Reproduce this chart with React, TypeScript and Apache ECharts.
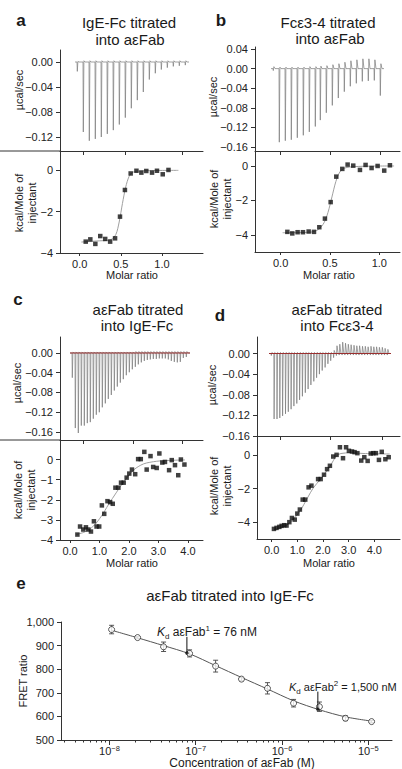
import React, { useEffect, useRef } from "react";
import * as echarts from "echarts";

const FONT = "'Liberation Sans', Arial, Helvetica, sans-serif";
const AX = "#333";
const TXT = "#1a1a1a";

// ---------- Panel a (IgE-Fc titrated into aεFab) ----------
const aTime = [17, 23, 29, 35, 41, 47, 53, 59, 65, 71, 77, 83, 89, 95, 101, 107, 113, 119, 125];
const aDown = [-0.015, -0.112, -0.126, -0.123, -0.12, -0.115, -0.109, -0.1, -0.089, -0.074, -0.061, -0.048, -0.028, -0.018, -0.012, -0.009, -0.007, -0.006, -0.005];
const aUp = [0.001, 0.002, 0.002, 0.002, 0.002, 0.002, 0.002, 0.002, 0.002, 0.002, 0.002, 0.002, 0.002, 0.002, 0.002, 0.002, 0.002, 0.002, 0.002];
const aRatio = [0.073, 0.129, 0.19, 0.25, 0.31, 0.37, 0.43, 0.49, 0.55, 0.62, 0.69, 0.75, 0.81, 0.88, 0.94, 1.01, 1.08];
const aHeat = [-3.45, -3.34, -3.56, -3.18, -3.32, -3.45, -3.29, -2.24, -0.95, -0.15, -0.02, -0.11, -0.03, -0.11, -0.02, -0.19, 0.02];
const aFitX = [0.02, 0.2, 0.38, 0.44, 0.48, 0.52, 0.56, 0.6, 0.64, 0.7, 0.85, 1.2];
const aFitY = [-3.47, -3.42, -3.35, -3.1, -2.5, -1.6, -0.8, -0.3, -0.1, -0.04, -0.01, 0];

// ---------- Panel b (Fcε3-4 titrated into aεFab) ----------
const bTime = [18, 24, 30, 36, 42, 48, 54, 60, 65, 71, 77, 83, 89, 95, 101, 107, 113, 119, 125];
const bDown = [-0.004, -0.15, -0.147, -0.145, -0.141, -0.136, -0.129, -0.118, -0.105, -0.09, -0.075, -0.06, -0.047, -0.036, -0.03, -0.026, -0.025, -0.024, -0.055];
const bUp = [0.004, 0.003, 0.003, 0.003, 0.003, 0.003, 0.004, 0.004, 0.005, 0.006, 0.008, 0.01, 0.013, 0.016, 0.018, 0.02, 0.02, 0.018, 0.01];
const bRatio = [0.068, 0.118, 0.172, 0.226, 0.284, 0.338, 0.392, 0.449, 0.507, 0.564, 0.625, 0.679, 0.736, 0.804, 0.861, 0.922, 0.983, 1.05, 1.108];
const bHeat = [-3.83, -3.92, -3.85, -3.85, -3.81, -3.83, -3.56, -3.06, -2.1, -0.62, -0.17, 0.08, 0.02, -0.23, 0.06, -0.12, 0, -0.27, 0.04];
const bFitX = [0.02, 0.3, 0.38, 0.44, 0.48, 0.52, 0.56, 0.6, 0.65, 0.75, 0.9, 1.15];
const bFitY = [-3.88, -3.85, -3.7, -3.3, -2.7, -1.8, -0.9, -0.35, -0.12, -0.04, -0.01, 0];

// ---------- Panel c (aεFab titrated into IgE-Fc) ----------
const cTime = [12, 15, 18, 21, 24, 27, 30, 33, 36, 39, 42, 45, 48, 51, 54, 57, 60, 63, 66, 69, 72, 75, 78, 81, 84, 87, 90, 93, 96, 99, 102, 105, 108, 111, 114, 117, 120, 123, 126];
const cDown = [-0.05, -0.152, -0.162, -0.147, -0.147, -0.142, -0.14, -0.133, -0.125, -0.12, -0.11, -0.102, -0.093, -0.085, -0.076, -0.068, -0.06, -0.053, -0.045, -0.039, -0.033, -0.028, -0.023, -0.019, -0.016, -0.014, -0.013, -0.012, -0.012, -0.011, -0.011, -0.011, -0.013, -0.016, -0.018, -0.019, -0.018, -0.01, -0.008];
const cUp = [0.002, 0.002, 0.002, 0.002, 0.002, 0.002, 0.002, 0.002, 0.002, 0.002, 0.002, 0.002, 0.002, 0.002, 0.002, 0.002, 0.002, 0.002, 0.002, 0.002, 0.002, 0.003, 0.003, 0.003, 0.003, 0.003, 0.003, 0.003, 0.003, 0.003, 0.003, 0.003, 0.003, 0.003, 0.003, 0.003, 0.003, 0.003, 0.003];
const cRatio = [0.25, 0.34, 0.45, 0.54, 0.62, 0.71, 0.81, 0.9, 0.99, 1.08, 1.16, 1.27, 1.36, 1.45, 1.54, 1.64, 1.73, 1.82, 1.92, 2.01, 2.1, 2.21, 2.31, 2.4, 2.52, 2.6, 2.73, 2.82, 2.94, 3.03, 3.13, 3.22, 3.36, 3.45, 3.56, 3.67, 3.76, 3.88];
const cHeat = [-3.73, -3.33, -3.48, -3.37, -3.48, -3.58, -3.07, -3.33, -3.33, -2.28, -2.7, -2.07, -2.12, -2.2, -1.4, -1.4, -1.15, -1.15, -0.9, -0.7, -0.5, -0.73, 0.02, 0.02, 0.38, -0.5, 0.17, -0.37, -0.42, 0.3, -0.15, -0.12, -0.53, -0.03, -0.28, -0.78, 0, -0.25];
const cFitX = [0.22, 0.5, 0.8, 1.07, 1.3, 1.58, 1.85, 2.15, 2.4, 2.6, 3.05, 3.9];
const cFitY = [-3.72, -3.6, -3.3, -2.8, -2.25, -1.62, -1.05, -0.53, -0.28, -0.17, -0.07, -0.02];

// ---------- Panel d (aεFab titrated into Fcε3-4) ----------
const dTime = [14, 16.8, 19.7, 22.5, 25.3, 28.2, 31, 33.8, 36.6, 39.5, 42.3, 45.1, 48, 50.8, 53.6, 56.5, 59.3, 62.1, 64.9, 67.8, 70.6, 73.4, 76.3, 79.1, 81.9, 84.8, 87.6, 90.4, 93.2, 96.1, 98.9, 101.7, 104.6, 107.4, 110.2, 113.1, 115.9, 118.7, 121.5, 124.4, 127.2, 130];
const dDown = [-0.004, -0.127, -0.127, -0.125, -0.121, -0.117, -0.113, -0.108, -0.102, -0.097, -0.09, -0.083, -0.076, -0.069, -0.061, -0.054, -0.047, -0.04, -0.033, -0.027, -0.02, -0.014, -0.008, -0.004, -0.003, -0.003, -0.003, -0.003, -0.003, -0.003, -0.003, -0.003, -0.003, -0.003, -0.003, -0.003, -0.003, -0.003, -0.003, -0.003, -0.003, -0.003];
const dUp = [0.002, 0.002, 0.002, 0.002, 0.002, 0.002, 0.002, 0.002, 0.002, 0.002, 0.002, 0.002, 0.002, 0.002, 0.002, 0.002, 0.002, 0.002, 0.002, 0.002, 0.002, 0.002, 0.006, 0.015, 0.018, 0.022, 0.02, 0.018, 0.017, 0.016, 0.015, 0.015, 0.014, 0.014, 0.013, 0.014, 0.013, 0.013, 0.012, 0.012, 0.01, 0.008];
const dRatio = [0.09, 0.19, 0.3, 0.39, 0.49, 0.58, 0.69, 0.79, 0.9, 1.0, 1.1, 1.21, 1.31, 1.44, 1.55, 1.81, 1.91, 2.04, 2.16, 2.27, 2.4, 2.53, 2.66, 2.78, 2.9, 3.01, 3.13, 3.23, 3.34, 3.49, 3.61, 3.74, 3.86, 3.96, 4.06, 4.18, 4.29, 4.43, 4.56];
const dHeat = [-4.4, -4.34, -4.28, -4.22, -4.18, -4.2, -4.0, -3.75, -3.85, -3.49, -3.25, -2.66, -2.66, -1.93, -1.83, -1.44, -1.44, -1.18, -0.85, -0.65, -0.1, 0, 0.45, -0.2, 0.45, 0.24, 0.2, 0.16, 0.1, -0.34, -0.14, -0.36, 0.08, 0.1, 0.1, -0.3, 0.18, -0.26, -0.14];
const dFitX = [0.09, 0.5, 0.8, 1.1, 1.4, 1.62, 1.9, 2.1, 2.27, 2.4, 2.53, 2.7, 3.05, 3.6, 4.6];
const dFitY = [-4.45, -4.25, -3.9, -3.35, -2.55, -1.97, -1.45, -1.05, -0.69, -0.35, -0.05, 0.08, 0.12, 0.08, 0.05];

// ---------- Panel e (FRET) ----------
const eConc = [1.06e-8, 2.12e-8, 4.24e-8, 8.48e-8, 1.7e-7, 3.39e-7, 6.78e-7, 1.36e-6, 2.71e-6, 5.43e-6, 1.09e-5];
const eFret = [968, 934, 895, 867, 813, 758, 719, 656, 641, 592, 578];
const eErr = [18, 5, 20, 15, 25, 7, 24, 16, 20, 10, 5];
const eFitConc = [1.06e-8, 2.12e-8, 4.24e-8, 8.48e-8, 1.7e-7, 3.39e-7, 6.78e-7, 1.36e-6, 2.71e-6, 5.43e-6, 1.09e-5];
const eFitVal = [965, 933, 900, 865, 815, 765, 716, 666, 628, 598, 580];
const eDecades = [-8, -7, -6, -5];
const kd1 = { conc: 7.9e-8, top: 937, bottom: 869 };
const kd2 = { conc: 2.6e-6, top: 705, bottom: 630 };

const GRIDS = [
  { left: 60, top: 50, width: 143, height: 101 },
  { left: 60, top: 151, width: 143, height: 102 },
  { left: 255, top: 47, width: 145, height: 104 },
  { left: 255, top: 151, width: 145, height: 101 },
  { left: 60, top: 337, width: 143, height: 103 },
  { left: 60, top: 440, width: 143, height: 100 },
  { left: 257, top: 337, width: 143, height: 99 },
  { left: 257, top: 436, width: 143, height: 103 },
  { left: 61, top: 622, width: 331, height: 118 },
];

function thermo(times: number[], down: number[], up: number[]) {
  const pts: number[][] = [[times[0] - 2, 0]];
  times.forEach((t, i) => {
    pts.push([t, 0], [t + 0.3, down[i]], [t + 0.9, up[i]], [t + 2, 0]);
  });
  pts.push([times[times.length - 1] + 4, 0]);
  return pts;
}
const zip = (xs: number[], ys: number[]) => xs.map((x, i) => [x, ys[i]]);

const fmtTherm = (v: number) => (v === 0 ? "0.00" : (v < 0 ? "\u2212" : "") + Math.abs(v).toFixed(2));
const fmtInt = (v: number) => (v === 0 ? "0" : (v < 0 ? "\u2212" : "") + Math.abs(v));
const fmt1 = (v: number) => v.toFixed(1);

function valAxis(gridIndex: number, min: number, max: number, ticks: number[], fmt: any, showLabel = true, tickLen = 4, margin = 7) {
  return {
    type: "value",
    gridIndex,
    min,
    max,
    axisLine: { show: true, onZero: false, lineStyle: { color: AX, width: 1 } },
    axisTick: { show: true, inside: false, length: tickLen, customValues: ticks, lineStyle: { color: AX, width: 1 } },
    axisLabel: { show: showLabel, customValues: ticks, formatter: fmt, fontSize: 11, color: "#222", fontFamily: FONT, margin },
    splitLine: { show: false },
    minorTick: { show: false },
  };
}

function txt(text: string, x: number, y: number, o: any = {}) {
  return {
    type: "text",
    x,
    y,
    rotation: o.rot || 0,
    z: 100,
    style: {
      text,
      fill: TXT,
      fontSize: o.size || 11,
      fontFamily: FONT,
      fontWeight: o.bold ? "bold" : "normal",
      align: o.align || "center",
      textAlign: o.align || "center",
      verticalAlign: "middle",
      textVerticalAlign: "middle",
      lineHeight: o.lh,
      rich: o.rich,
    },
  };
}

function buildOption() {
  const log = (c: number) => Math.log10(c);
  const minor: number[] = [];
  for (let d = -9; d <= -5; d++) for (let m = 2; m <= 9; m++) minor.push(Math.log10(m) + d);

  const thermoLine = (x: number, data: number[][]) => ({
    type: "line", xAxisIndex: x, yAxisIndex: x, data, showSymbol: false, clip: true,
    lineStyle: { color: "#7a7a7a", width: 0.7 }, z: 2,
  });
  const fitLine = (x: number, data: number[][]) => ({
    type: "line", xAxisIndex: x, yAxisIndex: x, data, showSymbol: false, smooth: 0.3,
    lineStyle: { color: "#a0a0a0", width: 1 }, z: 2,
  });
  const sq = (x: number, data: number[][]) => ({
    type: "scatter", xAxisIndex: x, yAxisIndex: x, data, symbol: "rect", symbolSize: 4.5,
    itemStyle: { color: "#111" }, z: 3,
  });
  const base = (x: number, times: number[]) => ({
    type: "line", xAxisIndex: x, yAxisIndex: x, data: [[times[0] - 2, 0], [times[times.length - 1] + 4, 0]],
    showSymbol: false, lineStyle: { color: "#9b2f2f", width: 1 }, z: 4,
  });

  const mkRich = (sz: number) => ({
    k: { fontStyle: "italic", fontSize: sz, fontFamily: FONT, fill: TXT, color: TXT, lineHeight: 16 },
    s: { fontSize: 8, fontFamily: FONT, fill: TXT, color: TXT, verticalAlign: "bottom", lineHeight: 8 },
    n: { fontSize: sz, fontFamily: FONT, fill: TXT, color: TXT, lineHeight: 16 },
    p: { fontSize: 8, fontFamily: FONT, fill: TXT, color: TXT, verticalAlign: "top", lineHeight: 8 },
  });

  return {
    animation: false,
    backgroundColor: "#ffffff",
    grid: GRIDS.map((g) => ({ ...g, containLabel: false, outerBoundsMode: "none" })),
    xAxis: [
      valAxis(0, 0, 143, [23, 65, 122], fmt1, false, 4),
      valAxis(1, -0.24, 1.5, [0, 0.5, 1.0], fmt1, true, 3, 5),
      valAxis(2, 0, 145, [25, 75, 125], fmt1, false, 4),
      valAxis(3, -0.26, 1.21, [0, 0.5, 1.0], fmt1, true, 3, 5),
      valAxis(4, 0, 143, [23, 73, 122], fmt1, false, 4),
      valAxis(5, -0.34, 4.51, [0, 1, 2, 3, 4], fmt1, true, 3, 5),
      valAxis(6, 0, 143, [23, 73, 125], fmt1, false, 4),
      valAxis(7, -0.57, 5.0, [0, 1, 2, 3, 4], fmt1, true, 3, 5),
      {
        ...valAxis(8, -8.561, -4.726, eDecades, fmt1, true, 5, 4),
        position: "bottom",
        axisLabel: {
          show: true, customValues: eDecades, margin: 4,
          formatter: (v: number) => `{b|10}{s|\u2212${Math.abs(Math.round(v))}}`,
          rich: {
            b: { fontSize: 11, fontFamily: FONT, color: "#222", lineHeight: 13 },
            s: { fontSize: 7.5, fontFamily: FONT, color: "#222", verticalAlign: "top", lineHeight: 8 },
          },
        },
      },
      {
        type: "value", gridIndex: 8, min: -8.561, max: -4.726, position: "bottom",
        axisLine: { show: false, onZero: false },
        axisTick: { show: true, inside: false, length: 2.5, customValues: minor, lineStyle: { color: AX, width: 1 } },
        axisLabel: { show: false },
        splitLine: { show: false },
      },
    ],
    yAxis: [
      valAxis(0, -0.1424, 0.0192, [0, -0.04, -0.08, -0.12], fmtTherm),
      valAxis(1, -4, 0.937, [0, -2, -4], fmtInt),
      valAxis(2, -0.168, 0.0441, [0.04, 0, -0.04, -0.08, -0.12, -0.16], fmtTherm),
      valAxis(3, -5, 0.87, [0, -2, -4], fmtInt),
      valAxis(4, -0.1762, 0.0324, [0, -0.04, -0.08, -0.12, -0.16], fmtTherm),
      valAxis(5, -4, 0.97, [0, -1, -2, -3, -4], fmtInt),
      valAxis(6, -0.16, 0.032, [0, -0.04, -0.08, -0.12, -0.16], fmtTherm),
      valAxis(7, -5, 1.12, [0, -2, -4], fmtInt),
      {
        ...valAxis(8, 500, 1000, [500, 600, 700, 800, 900, 1000], (v: number) => (v >= 1000 ? "1,000" : String(v))),
        interval: 100,
      },
    ],
    series: [
      thermoLine(0, thermo(aTime, aDown, aUp)),
      fitLine(1, zip(aFitX, aFitY)),
      sq(1, zip(aRatio, aHeat)),
      thermoLine(2, thermo(bTime, bDown, bUp)),
      fitLine(3, zip(bFitX, bFitY)),
      sq(3, zip(bRatio, bHeat)),
      thermoLine(4, thermo(cTime, cDown, cUp)),
      base(4, cTime),
      fitLine(5, zip(cFitX, cFitY)),
      sq(5, zip(cRatio, cHeat)),
      thermoLine(6, thermo(dTime, dDown, dUp)),
      base(6, dTime),
      fitLine(7, zip(dFitX, dFitY)),
      sq(7, zip(dRatio, dHeat)),
      {
        type: "line", xAxisIndex: 8, yAxisIndex: 8, data: eFitConc.map((c, i) => [log(c), eFitVal[i]]),
        showSymbol: false, smooth: 0.3, lineStyle: { color: "#555", width: 1 }, z: 2,
      },
      {
        type: "custom", xAxisIndex: 8, yAxisIndex: 8, z: 3,
        data: eConc.map((c, i) => [log(c), eFret[i] - eErr[i], eFret[i] + eErr[i]]),
        encode: { x: 0, y: [1, 2] },
        renderItem: (params: any, api: any) => {
          const x = api.value(0);
          const lo = api.coord([x, api.value(1)]);
          const hi = api.coord([x, api.value(2)]);
          const w = 2.5;
          const st = { stroke: "#444", lineWidth: 0.9 };
          return {
            type: "group",
            children: [
              { type: "line", shape: { x1: lo[0], y1: lo[1], x2: hi[0], y2: hi[1] }, style: st },
              { type: "line", shape: { x1: lo[0] - w, y1: lo[1], x2: lo[0] + w, y2: lo[1] }, style: st },
              { type: "line", shape: { x1: hi[0] - w, y1: hi[1], x2: hi[0] + w, y2: hi[1] }, style: st },
            ],
          };
        },
      },
      {
        type: "scatter", xAxisIndex: 8, yAxisIndex: 8, data: eConc.map((c, i) => [log(c), eFret[i]]),
        symbol: "circle", symbolSize: 6, itemStyle: { color: "#fff", borderColor: "#333", borderWidth: 1 }, z: 4,
      },
      {
        type: "line", xAxisIndex: 8, yAxisIndex: 8, data: [[log(kd1.conc), kd1.top], [log(kd1.conc), kd1.bottom]],
        showSymbol: false, lineStyle: { color: "#111", width: 1 }, z: 5,
      },
      {
        type: "line", xAxisIndex: 8, yAxisIndex: 8, data: [[log(kd2.conc), kd2.top], [log(kd2.conc), kd2.bottom]],
        showSymbol: false, lineStyle: { color: "#111", width: 1 }, z: 5,
      },
      {
        type: "scatter", xAxisIndex: 8, yAxisIndex: 8, data: [[log(kd1.conc), kd1.bottom], [log(kd2.conc), kd2.bottom]],
        symbol: "circle", symbolSize: 3.5, itemStyle: { color: "#111" }, z: 6,
      },
    ],
    graphic: {
      elements: [
        // shared-line extensions
        { type: "line", shape: { x1: 0, y1: 151, x2: 60, y2: 151 }, style: { stroke: AX, lineWidth: 1 } },
        { type: "line", shape: { x1: 0, y1: 440, x2: 60, y2: 440 }, style: { stroke: AX, lineWidth: 1 } },
        // panel letters
        txt("a", 21, 20, { size: 17, bold: true }),
        txt("b", 221, 20, { size: 17, bold: true }),
        txt("c", 18, 299, { size: 17, bold: true }),
        txt("d", 220, 315, { size: 17, bold: true }),
        txt("e", 21, 583, { size: 17, bold: true }),
        // titles
        txt("IgE-Fc titrated", 129, 22, { size: 15 }),
        txt("into a\u03b5Fab", 130, 39, { size: 15 }),
        txt("Fc\u03b53-4 titrated", 328, 22, { size: 15 }),
        txt("into a\u03b5Fab", 330, 38, { size: 15 }),
        txt("a\u03b5Fab titrated", 138, 309, { size: 15 }),
        txt("into IgE-Fc", 137, 325, { size: 15 }),
        txt("a\u03b5Fab titrated", 337, 309, { size: 15 }),
        txt("into Fc\u03b53-4", 337, 325, { size: 15 }),
        txt("a\u03b5Fab titrated into IgE-Fc", 230, 595, { size: 15 }),
        // y names
        txt("\u00b5cal/sec", 19, 90, { rot: Math.PI / 2 }),
        txt("\u00b5cal/sec", 213, 97, { rot: Math.PI / 2 }),
        txt("\u00b5cal/sec", 17, 383, { rot: Math.PI / 2 }),
        txt("\u00b5cal/sec", 212, 385, { rot: Math.PI / 2 }),
        txt("kcal/Mole of\ninjectant", 25, 203, { rot: Math.PI / 2, lh: 13 }),
        txt("kcal/Mole of\ninjectant", 220, 199, { rot: Math.PI / 2, lh: 13 }),
        txt("kcal/Mole of\ninjectant", 24, 490, { rot: Math.PI / 2, lh: 13 }),
        txt("kcal/Mole of\ninjectant", 220, 486, { rot: Math.PI / 2, lh: 13 }),
        txt("FRET ratio", 23, 681, { rot: Math.PI / 2, size: 11 }),
        // x names
        txt("Molar ratio", 132, 275),
        txt("Molar ratio", 329, 275),
        txt("Molar ratio", 132, 563),
        txt("Molar ratio", 329, 563),
        txt("Concentration of a\u03b5Fab (M)", 242, 763, { size: 12 }),
        // Kd annotations
        txt("{k|K}{s|d}{n| a\u03b5Fab}{p|1}{n| = 76 nM}", 157, 632, { align: "left", size: 12, rich: mkRich(12) }),
        txt("{k|K}{s|d}{n| a\u03b5Fab}{p|2}{n| = 1,500 nM}", 289, 687, { align: "left", size: 11, rich: mkRich(11) }),
      ],
    },
  };
}

export default function App() {
  const ref = useRef<HTMLDivElement>(null);
  useEffect(() => {
    const chart = echarts.init(ref.current!, null, { renderer: "svg" });
    chart.setOption(buildOption() as any);
    return () => chart.dispose();
  }, []);
  return <div ref={ref} style={{ position: "absolute", left: 0, top: 0, width: 402, height: 769, background: "#fff" }} />;
}
